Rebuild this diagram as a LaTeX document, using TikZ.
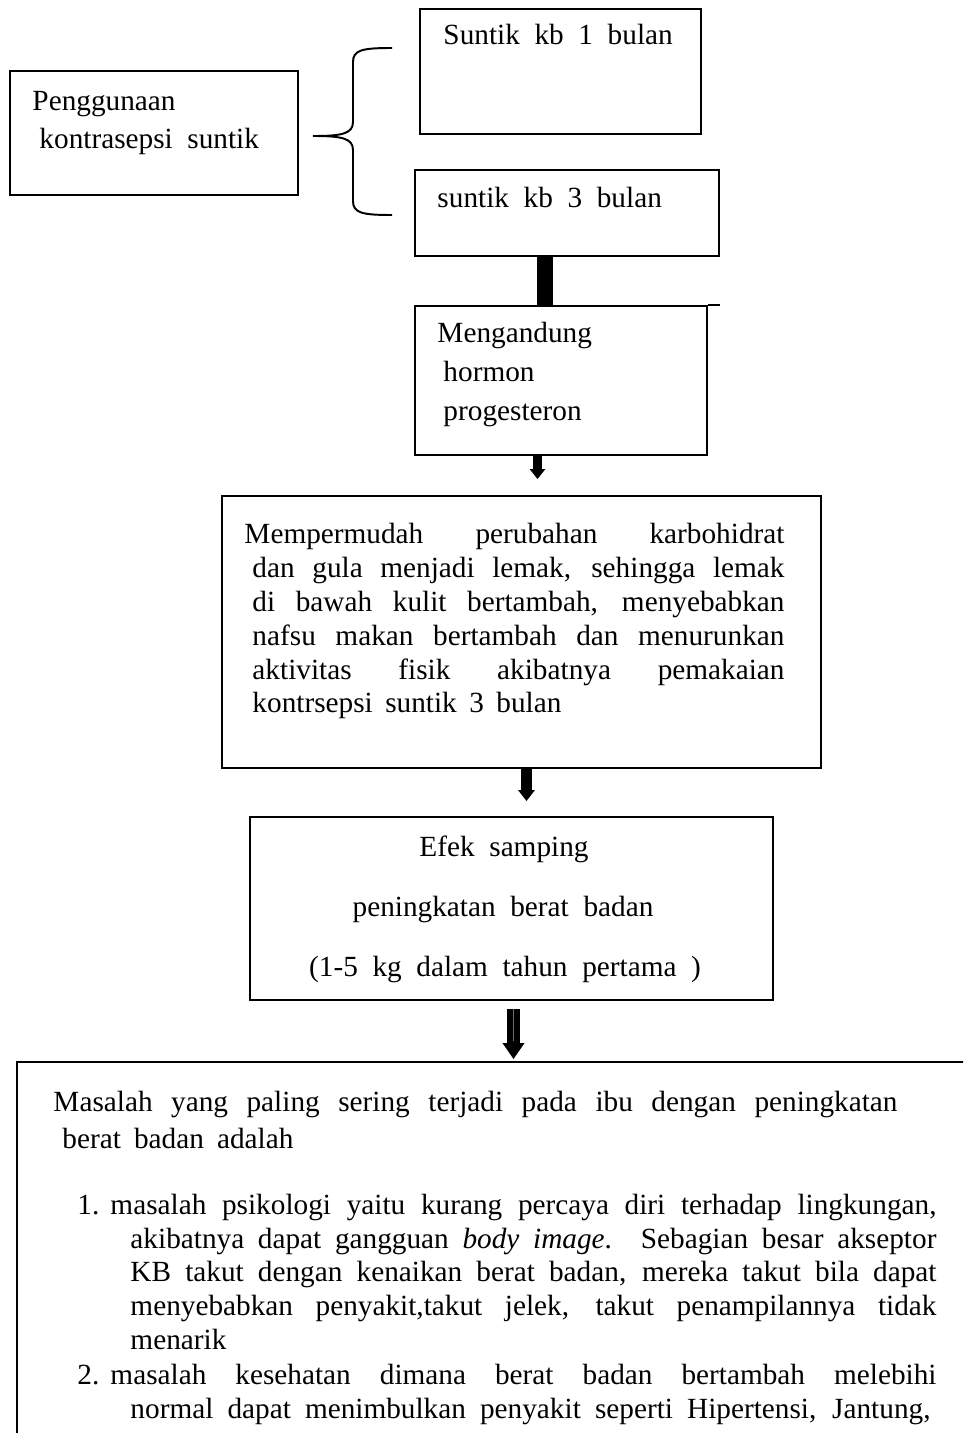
\documentclass[tikz,border=0pt]{standalone}
\usepackage{fontspec}
\setmainfont{Liberation Serif}
\usetikzlibrary{arrows.meta,fit}
\definecolor{shaftblue}{RGB}{68,114,196}
\newdimen\pxu \pxu=0.41pt

\tikzset{
  box/.style={draw, line width=0.75pt, inner sep=0pt},
  txt/.style={font=\fontsize{12}{13.8}\selectfont, inner sep=0pt, anchor=base west},
  wide/.style={txt, execute at begin node={\spaceskip=6pt plus 2pt\relax}},
  dn/.style n args={3}{line width=#1, -{Triangle[width=#2, length=#3]}},
}

\begin{document}
\begin{tikzpicture}[x=0.41pt, y=-0.41pt]
  \clip (0,0) rectangle (963,1433);
  \fill[white] (0,0) rectangle (963,1433);
  \node[box, fit={(10,71) (298,195)}] (guna) {};
  \node[box, fit={(420,9) (701,134)}] (kb1) {};
  \node[box, fit={(415,170) (719,256)}] (kb3) {};
  \node[box, fit={(415,306) (707,455)}] (hormon) {};
  \node[box, fit={(222,496) (821,768)}] (lemak) {};
  \node[box, fit={(250,817) (773,1000)}] (efek) {};
  \node[box, fit={(17,1062) (1010,1500)}] (masalah) {};
  \draw[line width=0.75pt] (hormon.north east) -- ++(12,0);

  \node[txt] (gunaA) at (32,110) {Penggunaan};
  \node[wide] (gunaB) at (39,148) {kontrasepsi suntik};
  \node[wide] (kb1t) at (443,45) {Suntik kb 1 bulan};
  \node[wide] (kb3t) at (437,207) {suntik kb 3 bulan};
  \node[txt] (hormonA) at (437,342) {Mengandung};
  \node[txt] (hormonB) at (443,381) {hormon};
  \node[txt] (hormonC) at (443,420) {progesteron};

  \foreach \n/\x/\y/\w/\t in {
    1/244/543/540/{Mempermudah perubahan karbohidrat},
    2/252/577/532/{dan gula menjadi lemak, sehingga lemak},
    3/252/611/532/{di bawah kulit bertambah, menyebabkan},
    4/252/645/532/{nafsu makan bertambah dan menurunkan},
    5/252/679/532/{aktivitas fisik akibatnya pemakaian},
    6/252/712/309/{kontrsepsi suntik 3 bulan}}
    \node[txt] (lemak\n) at (\x,\y) {\makebox[\w\pxu][s]{\t}};

  \node[wide, anchor=base] (efekA) at (504,856) {Efek samping};
  \node[wide, anchor=base] (efekB) at (503,916) {peningkatan berat badan};
  \node[wide, anchor=base] (efekC) at (505,976) {(1-5 kg dalam tahun pertama )};

  \node[txt] (masA) at (53,1111) {\makebox[844\pxu][s]{Masalah yang paling sering terjadi pada ibu dengan peningkatan}};
  \node[txt] (masB) at (62,1148) {\makebox[231\pxu][s]{berat badan adalah}};
  \node[txt] (no1) at (77,1214) {1.};
  \node[txt] (no2) at (77,1384) {2.};
  \foreach \n/\x/\y/\w/\t in {
    1/110/1214/826/{masalah psikologi yaitu kurang percaya diri terhadap lingkungan,},
    2/130/1248/806/{akibatnya dapat gangguan \textit{body image}. Sebagian besar akseptor},
    3/130/1281/806/{KB takut dengan kenaikan berat badan, mereka takut bila dapat},
    4/130/1315/806/{menyebabkan penyakit,takut jelek, takut penampilannya tidak},
    6/110/1384/826/{masalah kesehatan dimana berat badan bertambah melebihi},
    7/130/1418/800/{normal dapat menimbulkan penyakit seperti Hipertensi, Jantung,}}
    \node[txt] (item\n) at (\x,\y) {\makebox[\w\pxu][s]{\t}};
  \node[txt] (item5) at (130,1349) {menarik};

  \coordinate (bt) at (392,48);
  \coordinate (bm) at (313,136);
  \coordinate (bb) at (392,215);
  \draw[line width=0.8pt] (bt) .. controls +(-30,0) and +(0,-12) .. (353,62) -- (353,122)
    .. controls +(0,12) and +(28,0) .. (bm) .. controls +(28,0) and +(0,-12) .. (353,150)
    -- (353,201) .. controls +(0,12) and +(-30,0) .. (bb);

  \draw[line width=6.6pt] ([shift={(-22,0)}]kb3.south) -- ([shift={(-16,0)}]hormon.north);
  \draw[dn={3.7pt}{6.2pt}{4.1pt}] ([shift={(-23.5,0)}]hormon.south) -- ([shift={(16,-16)}]lemak.north);
  \draw[dn={4.5pt}{6.6pt}{4.5pt}] ([shift={(5,0)}]lemak.south) -- ([shift={(15,-15)}]efek.north);
  \draw[dn={5.3pt}{8.6pt}{6.6pt}] ([shift={(2,8)}]efek.south) -- ([shift={(0,-2)}]masalah.north);
  \draw[shaftblue, line width=0.8pt] ([shift={(2,8)}]efek.south) -- ([shift={(0,-20)}]masalah.north);
\end{tikzpicture}
\end{document}
